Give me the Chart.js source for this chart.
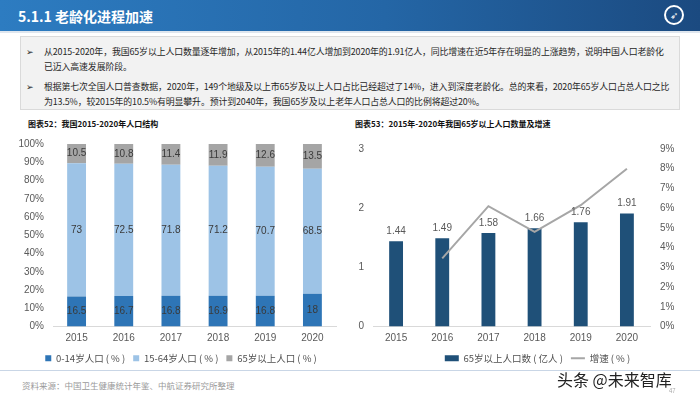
<!DOCTYPE html>
<html>
<head>
<meta charset="utf-8">
<script src="https://cdn.jsdelivr.net/npm/chart.js@4"></script>
<style>
  body { margin: 0; width: 700px; height: 394px; background: #fff; position: relative; overflow: hidden;
         font-family: "Noto Sans CJK SC", "Liberation Sans", sans-serif; }
  .header { position: absolute; left: 0; top: 0; width: 700px; height: 31px;
            background: linear-gradient(90deg, #2d7cc1 0%, #2466a6 55%, #1b4a80 100%);
            border-bottom: 2px solid #dfe6ee; }
  .header h1 { margin: 0; position: absolute; left: 18px; top: 6px; font-size: 14px; color: #fff; font-weight: bold; }
  .logo { position: absolute; right: 16px; top: 5px; width: 20px; height: 20px; border-radius: 50%;
          border: 2px solid #fff; box-sizing: border-box; color: #fff; font-size: 10px; line-height: 16px; text-align: center; }
  .box { position: absolute; left: 20px; top: 36px; width: 660px; height: 74px; background: #f2f2f2;
         border: 1px solid #dadada; box-sizing: border-box; font-size: 8.9px; color: #262626; line-height: 15px;
         letter-spacing: -0.1px; }
  .box p { margin: 0; position: absolute; left: 23px; right: 6px; }
  .box p span { position: absolute; left: -18px; }
  .ctitle { position: absolute; top: 118px; font-size: 8px; font-weight: bold; color: #111; }
  .wrap { position: absolute; }
  .foot { position: absolute; left: 0; top: 370px; width: 700px; height: 1px; background: #c9d6e6; }
  .src { position: absolute; left: 22px; top: 379px; font-size: 8.5px; color: #9a9a9a; }
  .wm { position: absolute; left: 557px; top: 367px; font-size: 16px; color: #222; }
  .pg { position: absolute; left: 669px; top: 386px; font-size: 6px; color: #aaa; }
</style>
</head>
<body>
<div class="header"><h1>5.1.1 老龄化进程加速</h1><div class="logo">➶</div></div>
<div class="box">
  <p style="top:7px"><span>➢</span>从2015-2020年，我国65岁以上人口数量逐年增加，从2015年的1.44亿人增加到2020年的1.91亿人，同比增速在近5年存在明显的上涨趋势，说明中国人口老龄化<br>已迈入高速发展阶段。</p>
  <p style="top:42px"><span>➢</span>根据第七次全国人口普查数据，2020年，149个地级及以上市65岁及以上人口占比已经超过了14%，进入到深度老龄化。总的来看，2020年65岁人口占总人口之比<br>为13.5%，较2015年的10.5%有明显攀升。预计到2040年，我国65岁及以上老年人口占总人口的比例将超过20%。</p>
</div>
<div class="ctitle" style="left:28px">图表52：我国2015-2020年人口结构</div>
<div class="ctitle" style="left:355px">图表53：2015年-2020年我国65岁以上人口数量及增速</div>
<div class="wrap" style="left:0;top:128px;width:362px;height:245px"><canvas id="left-chart"></canvas></div>
<div class="wrap" style="left:345px;top:128px;width:385px;height:245px"><canvas id="right-chart"></canvas></div>
<div class="foot"></div>
<div class="src">资料来源：中国卫生健康统计年鉴、中航证券研究所整理</div>
<div class="wm">头条 @未来智库</div>
<div class="pg">47</div>
<script>
const years = ['2015', '2016', '2017', '2018', '2019', '2020'];
const age0to14 = [16.5, 16.7, 16.8, 16.9, 16.8, 18];
const age15to64 = [73, 72.5, 71.8, 71.2, 70.7, 68.5];
const age65plus = [10.5, 10.8, 11.4, 11.9, 12.6, 13.5];
const pop65 = [1.44, 1.49, 1.58, 1.66, 1.76, 1.91];
const growth = [null, 3.45, 6.1, 4.8, 6.15, 8.0];

const tickFont = { family: 'Liberation Sans Narrow, Liberation Sans, sans-serif', size: 10 };
const legendFont = { family: 'Noto Sans CJK SC, sans-serif', size: 9.5 };
const noGrid = { display: false, tickLength: 4 };

// value labels drawn from the bar elements
const barLabels = {
  id: 'barLabels',
  afterDatasetsDraw(chart, args, opts) {
    const ctx = chart.ctx;
    ctx.save();
    ctx.font = '10px Liberation Sans Narrow, Liberation Sans, sans-serif';
    ctx.textAlign = 'center';
    chart.data.datasets.forEach((ds, i) => {
      if (ds.type === 'line') return;
      const meta = chart.getDatasetMeta(i);
      meta.data.forEach((el, j) => {
        const v = ds.data[j];
        if (opts.mode === 'center') {
          ctx.fillStyle = '#3a3a3a';
          ctx.textBaseline = 'middle';
          ctx.fillText(v, el.x, (el.y + el.base) / 2);
        } else {
          ctx.fillStyle = '#595959';
          ctx.textBaseline = 'bottom';
          ctx.fillText(v.toFixed(2), el.x, el.y - 5);
        }
      });
    });
    ctx.restore();
  }
};

new Chart(document.getElementById('left-chart'), {
  type: 'bar',
  data: {
    labels: years,
    datasets: [
      { label: '0-14岁人口 ( % )', data: age0to14, backgroundColor: '#2e75b6' },
      { label: '15-64岁人口 ( % )', data: age15to64, backgroundColor: '#9dc3e6' },
      { label: '65岁以上人口 ( % )', data: age65plus, backgroundColor: '#a5a5a5' }
    ]
  },
  options: {
    responsive: true,
    maintainAspectRatio: false,
    animation: false,
    layout: { padding: { top: 16, right: 0, left: 0, bottom: 0 } },
    datasets: { bar: { categoryPercentage: 1, barPercentage: 0.4 } },
    scales: {
      x: {
        stacked: true,
        grid: noGrid,
        border: { color: '#d9d9d9' },
        afterFit: (s) => { s.height = 19; },
        ticks: { color: '#595959', font: tickFont, padding: 2 }
      },
      y: {
        stacked: true, min: 0, max: 100,
        grid: noGrid,
        border: { display: false },
        afterFit: (s) => { s.width = 53; },
        ticks: { stepSize: 10, color: '#595959', font: tickFont, padding: 5, callback: (v) => v + '%' }
      },
      // empty spacer on the right so the legend sits where the original one does
      spacer: {
        position: 'right', min: 0, max: 100,
        grid: { display: false, drawTicks: false },
        border: { display: false },
        ticks: { display: false },
        afterFit: (s) => { s.width = 26; }
      }
    },
    plugins: {
      legend: {
        position: 'bottom',
        labels: { boxWidth: 6, boxHeight: 6, padding: 8, color: '#505050', font: legendFont }
      },
      tooltip: { enabled: false },
      barLabels: { mode: 'center' }
    }
  },
  plugins: [barLabels]
});

new Chart(document.getElementById('right-chart'), {
  data: {
    labels: years,
    datasets: [
      { type: 'bar', label: '65岁以上人口数 ( 亿人 )', data: pop65, backgroundColor: '#1f5078', yAxisID: 'y', order: 2,
        categoryPercentage: 1, barPercentage: 0.3, pointStyle: 'rect' },
      { type: 'line', label: '增速 ( % )', data: growth, borderColor: '#a6a6a6', backgroundColor: '#a6a6a6',
        borderWidth: 2, pointRadius: 0, pointStyle: 'line', yAxisID: 'y1', order: 1 }
    ]
  },
  options: {
    responsive: true,
    maintainAspectRatio: false,
    animation: false,
    layout: { padding: { top: 21, right: 0, left: 0, bottom: 0 } },
    scales: {
      x: {
        grid: noGrid,
        border: { color: '#d9d9d9' },
        afterFit: (s) => { s.height = 19; },
        ticks: { color: '#595959', font: tickFont, padding: 2 }
      },
      y: {
        position: 'left', min: 0, max: 3,
        grid: noGrid,
        border: { display: false },
        afterFit: (s) => { s.width = 28; },
        ticks: { stepSize: 1, color: '#595959', font: tickFont, padding: 5 }
      },
      y1: {
        position: 'right', min: 0, max: 9,
        grid: noGrid,
        border: { display: false },
        afterFit: (s) => { s.width = 80; },
        ticks: { stepSize: 1, color: '#595959', font: tickFont, padding: 6, callback: (v) => v + '%' }
      }
    },
    plugins: {
      legend: {
        position: 'bottom',
        labels: {
          usePointStyle: true, pointStyleWidth: 14, boxHeight: 6, padding: 8,
          color: '#505050', font: legendFont,
          sort: (a, b) => a.datasetIndex - b.datasetIndex
        }
      },
      tooltip: { enabled: false },
      barLabels: { mode: 'top' }
    }
  },
  plugins: [barLabels]
});
</script>
</body>
</html>
